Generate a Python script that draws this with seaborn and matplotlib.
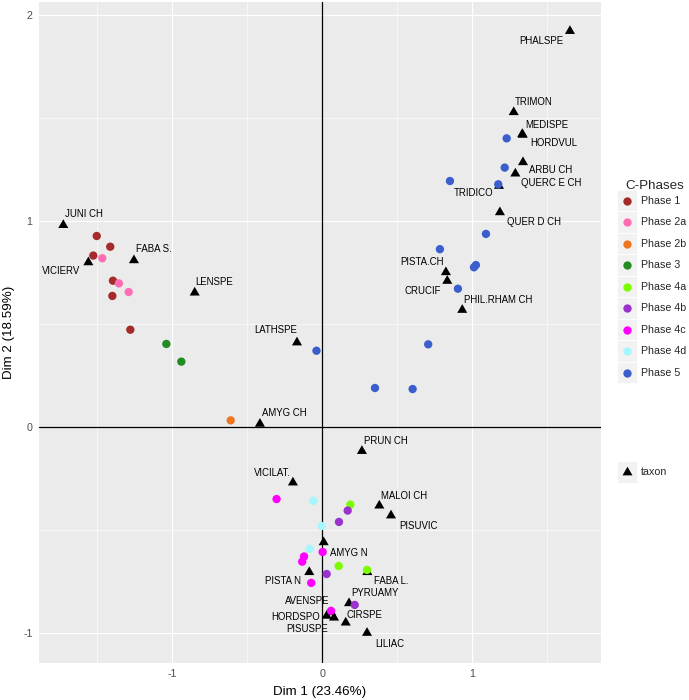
import matplotlib
matplotlib.use("Agg")
import matplotlib.pyplot as plt
import seaborn as sns
import pandas as pd
import numpy as np
from matplotlib.patches import Rectangle
from matplotlib.lines import Line2D
from matplotlib.path import Path

# ---------------- data ----------------
phase_names = ["Phase 1", "Phase 2a", "Phase 2b", "Phase 3", "Phase 4a",
               "Phase 4b", "Phase 4c", "Phase 4d", "Phase 5"]
phase_colors = ["#A52A2A", "#FF6EB4", "#EE7621", "#228B22", "#7CFC00",
                "#9A32CD", "#FF00FF", "#A6F6FF", "#3A5FCD"]

phase1_x = [-1.505, -1.415, -1.528, -1.397, -1.401, -1.281]
phase1_y = [0.927, 0.875, 0.832, 0.710, 0.636, 0.472]
phase2a_x = [-1.468, -1.357, -1.292]
phase2a_y = [0.819, 0.697, 0.655]
phase2b_x = [-0.612]
phase2b_y = [0.032]
phase3_x = [-1.041, -0.941]
phase3_y = [0.403, 0.317]
phase4a_x = [0.186, 0.108, 0.297]
phase4a_y = [-0.377, -0.675, -0.694]
phase4b_x = [0.168, 0.110, 0.028, 0.215]
phase4b_y = [-0.406, -0.461, -0.714, -0.864]
phase4c_x = [-0.306, 0.001, -0.123, -0.135, -0.075, 0.057]
phase4c_y = [-0.350, -0.607, -0.629, -0.654, -0.757, -0.893]
phase4d_x = [-0.061, -0.005, -0.085]
phase4d_y = [-0.359, -0.481, -0.592]
phase5_x = [-0.040, 0.350, 0.601, 0.705, 0.903, 1.010, 1.023, 0.783, 1.090,
            0.850, 1.172, 1.215, 1.228]
phase5_y = [0.370, 0.189, 0.184, 0.401, 0.671, 0.775, 0.786, 0.863, 0.937,
            1.194, 1.178, 1.259, 1.401]

taxa_names = ["JUNI CH", "VICIERV", "FABA S.", "LENSPE", "LATHSPE", "AMYG CH",
              "PRUN CH", "VICILAT.", "MALOI CH", "PISUVIC", "AMYG N", "PISTA N",
              "FABA L.", "PYRUAMY", "AVENSPE", "HORDSPO", "PISUSPE", "CIRSPE",
              "LILIAC", "PHALSPE", "TRIMON", "MEDISPE", "HORDVUL", "ARBU CH",
              "QUERC E CH", "TRIDICO", "QUER D CH", "PISTA.CH", "CRUCIF",
              "PHIL.RHAM CH"]
taxa_x = [-1.728, -1.561, -1.257, -0.852, -0.170, -0.417, 0.263, -0.197, 0.379,
          0.457, 0.008, -0.088, 0.299, 0.177, 0.057, 0.028, 0.077, 0.155, 0.297,
          1.650, 1.275, 1.332, 1.335, 1.337, 1.286, 1.177, 1.183, 0.823, 0.832,
          0.932]
taxa_y = [0.980, 0.799, 0.809, 0.652, 0.410, 0.015, -0.117, -0.270, -0.382,
          -0.430, -0.560, -0.705, -0.705, -0.856, -0.900, -0.917, -0.926, -0.950,
          -1.000, 1.922, 1.528, 1.422, 1.418, 1.285, 1.230, 1.170, 1.042, 0.751,
          0.709, 0.568]

x_label = "Dim 1 (23.46%)"
y_label = "Dim 2 (18.59%)"
legend_title = "C-Phases"
taxon_legend_label = "taxon"

# label placement (pixel offsets from the point, horizontal alignment)
label_place = {
    "JUNI CH": (2, 11, "left"), "VICIERV": (-8, -9, "right"),
    "FABA S.": (2, 11, "left"), "LENSPE": (1, 11, "left"),
    "LATHSPE": (0, 12, "right"), "AMYG CH": (2, 11, "left"),
    "PRUN CH": (2, 10, "left"), "VICILAT.": (-2, 10, "right"),
    "MALOI CH": (2, 10, "left"), "PISUVIC": (8, -10, "left"),
    "AMYG N": (6, -11, "left"), "PISTA N": (-8, -9, "right"),
    "FABA L.": (7, -9, "left"), "PYRUAMY": (2, 10, "left"),
    "AVENSPE": (-2, 11, "right"), "HORDSPO": (-7, -1, "right"),
    "PISUSPE": (-6, -11, "right"), "CIRSPE": (1, 8, "left"),
    "LILIAC": (8, -11, "left"), "PHALSPE": (-7, -10, "right"),
    "TRIMON": (1, 10, "left"), "MEDISPE": (3, 9, "left"),
    "HORDVUL": (8, -8, "left"), "ARBU CH": (6, -8, "left"),
    "QUERC E CH": (6, -9, "left"), "TRIDICO": (-6, -7, "right"),
    "QUER D CH": (7, -10, "left"), "PISTA.CH": (-2, 10, "right"),
    "CRUCIF": (-6, -10, "right"), "PHIL.RHAM CH": (2, 10, "left"),
}

# ---------------- frames ----------------
px_list = [phase1_x, phase2a_x, phase2b_x, phase3_x, phase4a_x, phase4b_x,
           phase4c_x, phase4d_x, phase5_x]
py_list = [phase1_y, phase2a_y, phase2b_y, phase3_y, phase4a_y, phase4b_y,
           phase4c_y, phase4d_y, phase5_y]
rows = []
for name, xs, ys in zip(phase_names, px_list, py_list):
    for a, b in zip(xs, ys):
        rows.append({"phase": name, "x": a, "y": b})
df_phase = pd.DataFrame(rows)
df_taxa = pd.DataFrame({"taxon": taxa_names, "x": taxa_x, "y": taxa_y})

# ---------------- style ----------------
sns.set_style("white")
plt.rcParams["font.family"] = ["Liberation Sans", "DejaVu Sans"]
plt.rcParams["axes.unicode_minus"] = False

W, H = 689, 700
fig = plt.figure(figsize=(W / 100, H / 100), dpi=100)
L, R, T, B = 38.7, 601.0, 2.0, 663.0
ax = fig.add_axes([L / W, 1 - B / H, (R - L) / W, (B - T) / H])
ax.set_facecolor("#EBEBEB")
for s in ax.spines.values():
    s.set_visible(False)

ax.set_xlim(-1.892, 1.857)
ax.set_ylim(-1.146, 2.063)
ax.set_xticks([-1, 0, 1])
ax.set_yticks([-1, 0, 1, 2])
ax.set_xticks([-1.5, -0.5, 0.5, 1.5], minor=True)
ax.set_yticks([-0.5, 0.5, 1.5], minor=True)
ax.grid(which="major", color="white", lw=0.85)
ax.grid(which="minor", color="white", lw=0.4)
ax.set_axisbelow(True)
ax.tick_params(which="major", length=2.8, width=0.8, color="#333333",
               labelcolor="#4D4D4D", labelsize=7.7, pad=1.6)
ax.tick_params(which="minor", length=0)

ax.axhline(0, color="black", lw=0.9, zorder=1.5)
ax.axvline(0, color="black", lw=0.9, zorder=1.5)

tri = Path([(-1, -0.577), (1, -0.577), (0, 1.155), (-1, -0.577)],
           [Path.MOVETO, Path.LINETO, Path.LINETO, Path.CLOSEPOLY])

sns.scatterplot(data=df_taxa, x="x", y="y", marker=tri, s=70, color="black",
                edgecolor="none", linewidth=0, legend=False, ax=ax, zorder=2)
sns.scatterplot(data=df_phase, x="x", y="y", hue="phase", hue_order=phase_names,
                palette=phase_colors, s=36, edgecolor="none", linewidth=0,
                legend=False, ax=ax, zorder=3)

for name, xx, yy in zip(taxa_names, taxa_x, taxa_y):
    dx, dy, ha = label_place[name]
    ax.annotate(name, (xx, yy), xytext=(dx, dy), textcoords="offset pixels",
                ha=ha, va="center", fontsize=6.9, color="black", zorder=4)

ax.set_xlabel(x_label, fontsize=9.6, color="black")
ax.set_ylabel(y_label, fontsize=9.6, color="black")
ax.xaxis.label.set_va("center")
ax.yaxis.label.set_va("center")
ax.xaxis.set_label_coords(0.5, -(692 - B) / (B - T))
ax.yaxis.set_label_coords(-(L - 9) / (R - L), 0.5)

# ---------------- legends ----------------
def fx(x):
    return x / W

def fy(y):
    return 1 - y / H

key_x0, key_w, key_h = 617, 20, 21.5
first_c = 200.7
fig.text(fx(625), fy(186), legend_title, fontsize=9.6, ha="left", va="center")
for i, (name, col) in enumerate(zip(phase_names, phase_colors)):
    cy = first_c + i * key_h
    fig.patches.append(Rectangle((fx(key_x0), fy(cy + key_h / 2)), key_w / W,
                                 key_h / H, transform=fig.transFigure,
                                 facecolor="#F2F2F2", edgecolor="white", lw=0.6))
    fig.lines.append(Line2D([fx(key_x0 + key_w / 2)], [fy(cy)], marker="o",
                            markersize=6.0, color=col, markeredgewidth=0,
                            transform=fig.transFigure))
    fig.text(fx(641), fy(cy), name, fontsize=7.7, ha="left", va="center")

tcy = 472
fig.patches.append(Rectangle((fx(key_x0), fy(tcy + key_h / 2)), key_w / W,
                             key_h / H, transform=fig.transFigure,
                             facecolor="#F2F2F2", edgecolor="white", lw=0.6))
fig.lines.append(Line2D([fx(key_x0 + key_w / 2)], [fy(tcy)], marker=tri,
                        markersize=8.3, color="black", markeredgewidth=0,
                        transform=fig.transFigure))
fig.text(fx(641), fy(tcy), taxon_legend_label, fontsize=7.7, ha="left",
         va="center")

fig.savefig("out.png", dpi=100)
